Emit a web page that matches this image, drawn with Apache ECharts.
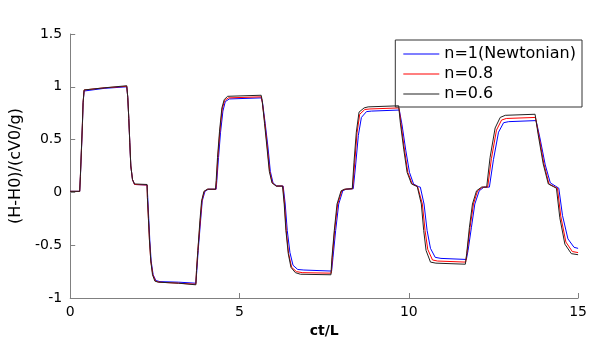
<!DOCTYPE html>
<html>
<head>
<meta charset="utf-8">
<script src="https://cdn.jsdelivr.net/npm/echarts@6/dist/echarts.min.js"></script>
<style>
  html, body { margin: 0; padding: 0; background: #fff; }
  #chart { width: 590px; height: 345px; }
</style>
</head>
<body>
<div id="chart"></div>
<script>
// series names, as in the legend
const seriesNames = ["n=1(Newtonian)", "n=0.8", "n=0.6"];
const seriesColors = ["#0000ff", "#ff0000", "#222222"];

// [ct/L, (H-H0)/(cV0/g)]
const newtonian = [
  [0, 0.01], [0.28, 0.01], [0.30, 0.14], [0.33, 0.38], [0.36, 0.63], [0.38, 0.84], [0.41, 0.96],
  [0.45, 0.975], [1.0, 0.985], [1.67, 1.0], [1.70, 0.90], [1.73, 0.70], [1.76, 0.47], [1.79, 0.25],
  [1.84, 0.12], [1.90, 0.075], [2.27, 0.07], [2.29, -0.05], [2.32, -0.25], [2.35, -0.45],
  [2.39, -0.65], [2.45, -0.78], [2.53, -0.835], [2.65, -0.845], [3.2, -0.85], [3.71, -0.86],
  [3.74, -0.74], [3.78, -0.55], [3.85, -0.27], [3.90, -0.08], [3.98, 0.01], [4.08, 0.03],
  [4.31, 0.03], [4.33, 0.11], [4.38, 0.33], [4.44, 0.57], [4.51, 0.77], [4.58, 0.86], [4.70, 0.885],
  [5.64, 0.895], [5.68, 0.85], [5.76, 0.65], [5.84, 0.43], [5.91, 0.20], [5.99, 0.09], [6.10, 0.06],
  [6.29, 0.06], [6.35, -0.11], [6.41, -0.36], [6.49, -0.57], [6.58, -0.69], [6.72, -0.73],
  [6.9, -0.735], [7.72, -0.745], [7.76, -0.62], [7.84, -0.36], [7.93, -0.11], [8.05, 0.015],
  [8.15, 0.03], [8.36, 0.035], [8.43, 0.26], [8.51, 0.54], [8.60, 0.71], [8.75, 0.765],
  [8.9, 0.77], [9.72, 0.78], [9.80, 0.64], [9.91, 0.40], [10.02, 0.19], [10.14, 0.08],
  [10.28, 0.055], [10.34, 0.05], [10.45, -0.11], [10.54, -0.36], [10.64, -0.53], [10.78, -0.615],
  [10.95, -0.625], [11.70, -0.635], [11.75, -0.55], [11.85, -0.33], [11.95, -0.11], [12.08, 0.015],
  [12.22, 0.05], [12.38, 0.05], [12.50, 0.31], [12.65, 0.57], [12.80, 0.66], [12.95, 0.67],
  [13.76, 0.68], [13.87, 0.52], [14.03, 0.26], [14.18, 0.09], [14.33, 0.06], [14.43, 0.04],
  [14.54, -0.22], [14.70, -0.44], [14.88, -0.52], [15, -0.53]
];

const n08 = [
  [0, 0.01], [0.28, 0.01], [0.30, 0.15], [0.33, 0.39], [0.36, 0.64], [0.38, 0.85], [0.41, 0.97],
  [0.45, 0.98], [1.0, 0.99], [1.67, 1.005], [1.70, 0.90], [1.73, 0.70], [1.76, 0.47], [1.79, 0.25],
  [1.84, 0.12], [1.90, 0.075], [2.27, 0.07], [2.28, -0.05], [2.31, -0.25], [2.34, -0.45],
  [2.38, -0.65], [2.44, -0.78], [2.52, -0.84], [2.62, -0.85], [3.2, -0.86], [3.71, -0.87],
  [3.73, -0.74], [3.77, -0.55], [3.84, -0.27], [3.89, -0.08], [3.96, 0.01], [4.06, 0.03],
  [4.30, 0.03], [4.32, 0.11], [4.36, 0.33], [4.42, 0.58], [4.49, 0.79], [4.56, 0.87], [4.67, 0.895],
  [5.64, 0.905], [5.67, 0.86], [5.75, 0.65], [5.82, 0.43], [5.89, 0.20], [5.97, 0.09], [6.09, 0.06],
  [6.28, 0.06], [6.33, -0.11], [6.38, -0.36], [6.45, -0.58], [6.54, -0.71], [6.68, -0.75],
  [6.85, -0.76], [7.71, -0.765], [7.74, -0.62], [7.81, -0.36], [7.90, -0.11], [8.02, 0.015],
  [8.12, 0.03], [8.34, 0.035], [8.40, 0.27], [8.47, 0.56], [8.55, 0.74], [8.70, 0.785],
  [8.85, 0.79], [9.71, 0.80], [9.77, 0.65], [9.87, 0.41], [9.97, 0.19], [10.10, 0.08],
  [10.26, 0.055], [10.31, 0.05], [10.40, -0.11], [10.48, -0.36], [10.56, -0.54], [10.70, -0.64],
  [10.85, -0.65], [11.68, -0.66], [11.72, -0.57], [11.81, -0.33], [11.91, -0.11], [12.03, 0.015],
  [12.18, 0.05], [12.33, 0.05], [12.44, 0.32], [12.59, 0.59], [12.74, 0.685], [12.88, 0.70],
  [13.74, 0.71], [13.84, 0.54], [13.99, 0.27], [14.14, 0.08], [14.29, 0.055], [14.39, 0.04],
  [14.49, -0.23], [14.64, -0.47], [14.83, -0.56], [15, -0.57]
];

const n06 = [
  [0, 0.01], [0.28, 0.01], [0.30, 0.15], [0.33, 0.40], [0.36, 0.65], [0.38, 0.85], [0.41, 0.97],
  [0.45, 0.98], [1.0, 0.99], [1.67, 1.01], [1.70, 0.90], [1.73, 0.70], [1.76, 0.47], [1.79, 0.25],
  [1.84, 0.12], [1.90, 0.08], [2.27, 0.075], [2.28, -0.05], [2.31, -0.25], [2.34, -0.45],
  [2.38, -0.65], [2.43, -0.78], [2.50, -0.84], [2.60, -0.85], [3.2, -0.86], [3.71, -0.875],
  [3.73, -0.74], [3.77, -0.55], [3.83, -0.27], [3.88, -0.08], [3.95, 0.01], [4.05, 0.03],
  [4.29, 0.03], [4.31, 0.11], [4.35, 0.33], [4.41, 0.58], [4.48, 0.80], [4.55, 0.88], [4.65, 0.91],
  [5.64, 0.92], [5.67, 0.87], [5.74, 0.65], [5.81, 0.43], [5.88, 0.20], [5.96, 0.09], [6.08, 0.06],
  [6.27, 0.06], [6.32, -0.11], [6.37, -0.36], [6.44, -0.58], [6.52, -0.71], [6.65, -0.76],
  [6.8, -0.775], [7.70, -0.78], [7.73, -0.62], [7.80, -0.36], [7.88, -0.11], [8.00, 0.015],
  [8.10, 0.03], [8.33, 0.035], [8.38, 0.28], [8.45, 0.57], [8.53, 0.76], [8.68, 0.80],
  [8.8, 0.81], [9.70, 0.82], [9.75, 0.66], [9.85, 0.41], [9.95, 0.19], [10.08, 0.08],
  [10.25, 0.055], [10.29, 0.05], [10.37, -0.11], [10.44, -0.36], [10.51, -0.55], [10.64, -0.66],
  [10.8, -0.67], [11.67, -0.68], [11.71, -0.58], [11.79, -0.33], [11.88, -0.11], [12.00, 0.015],
  [12.15, 0.05], [12.30, 0.05], [12.40, 0.33], [12.55, 0.61], [12.70, 0.71], [12.85, 0.73],
  [13.73, 0.74], [13.82, 0.55], [13.97, 0.27], [14.12, 0.08], [14.27, 0.055], [14.36, 0.04],
  [14.46, -0.24], [14.61, -0.49], [14.80, -0.58], [15, -0.59]
];

const allData = [newtonian, n08, n06];

const chart = echarts.init(document.getElementById("chart"), null, { renderer: "canvas" });

const font = "DejaVu Sans, sans-serif";

const axisCommon = {
  axisLine: { show: true, onZero: false, lineStyle: { color: "#808080", width: 1 } },
  axisTick: { show: true, inside: true, length: 5, lineStyle: { color: "#808080" } },
  axisLabel: { color: "#000", fontSize: 14, fontFamily: font },
  splitLine: { show: false }
};

chart.setOption({
  backgroundColor: "#fff",
  animation: false,
  grid: { left: 70, right: 10, top: 34, bottom: 47 },
  xAxis: Object.assign({}, axisCommon, {
    type: "value",
    min: 0, max: 15, interval: 5,
    name: "ct/L",
    nameLocation: "middle",
    nameGap: 25,
    nameTextStyle: { color: "#000", fontSize: 14, fontWeight: "bold", fontFamily: font },
    axisLabel: Object.assign({}, axisCommon.axisLabel, { margin: 7 })
  }),
  yAxis: Object.assign({}, axisCommon, {
    type: "value",
    min: -1, max: 1.5, interval: 0.5,
    name: "(H-H0)/(cV0/g)",
    nameLocation: "middle",
    nameGap: 43,
    nameTextStyle: { color: "#000", fontSize: 16, fontFamily: font },
    axisLabel: Object.assign({}, axisCommon.axisLabel, { margin: 8 })
  }),
  legend: {
    data: seriesNames,
    orient: "vertical",
    right: 8,
    top: 40,
    backgroundColor: "#fff",
    borderColor: "#333",
    borderWidth: 1,
    borderRadius: 0,
    padding: [6, 6, 5, 8],
    itemGap: 4,
    itemWidth: 36,
    itemHeight: 1.2,
    icon: "rect",
    itemStyle: { borderWidth: 0 },
    textStyle: { color: "#000", fontSize: 16, fontFamily: font, lineHeight: 16 }
  },
  series: allData.map((d, i) => ({
    name: seriesNames[i],
    type: "line",
    data: d,
    showSymbol: false,
    symbol: "none",
    lineStyle: { color: seriesColors[i], width: 1 },
    itemStyle: { color: seriesColors[i] },
    z: 2 + i
  }))
});
</script>
</body>
</html>
